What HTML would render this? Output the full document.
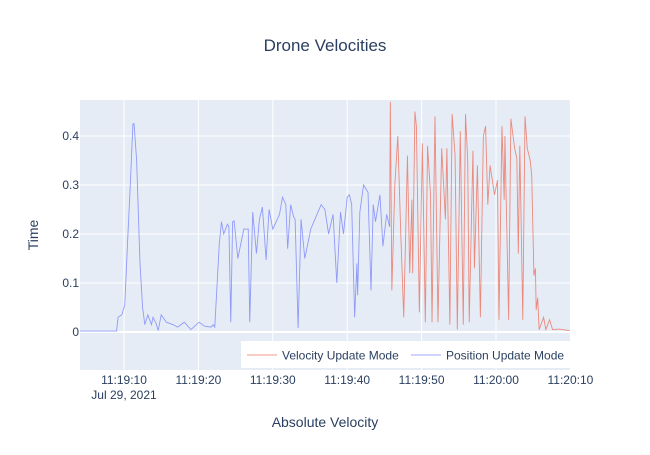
<!DOCTYPE html>
<html><head><meta charset="utf-8"><style>
body{margin:0;background:#fff;}
svg text{font-family:"Liberation Sans",sans-serif;fill:#2a3f5f;}
</style></head><body>
<svg id="chart" width="650" height="450" xmlns="http://www.w3.org/2000/svg">
<rect x="80" y="100" width="490" height="270" fill="#e5ecf6"/>
<g id="grid"></g>
<g id="series"></g>
<g id="ticks"></g>
<text x="325" y="51" font-size="17" text-anchor="middle">Drone Velocities</text>
<text x="325" y="427" font-size="14" text-anchor="middle">Absolute Velocity</text>
<text x="38" y="235" font-size="14" text-anchor="middle" transform="rotate(-90 38 235)">Time</text>
<g>
<rect x="241" y="341" width="329" height="27" fill="#fff"/>
<line x1="247" y1="355" x2="277" y2="355" stroke="#EF553B" stroke-width="1" opacity="0.6"/>
<text x="282" y="359.5" font-size="12">Velocity Update Mode</text>
<line x1="411" y1="355" x2="441" y2="355" stroke="#636efa" stroke-width="1" opacity="0.6"/>
<text x="446" y="359.5" font-size="12">Position Update Mode</text>
</g>
</svg>
<script>
// seconds after 11:19:00 and values
const posT=[4.1,9.0,9.2,9.7,10.1,10.5,10.8,11.2,11.35,11.7,12.15,12.5,12.8,13.2,13.7,13.9,14.3,14.6,15.0,15.7,16.6,17.2,18.1,19.0,20.1,20.8,21.7,22.0,22.2,22.8,23.1,23.4,23.9,24.1,24.35,24.6,24.8,25.3,26.1,26.7,26.9,27.3,27.8,28.2,28.6,29.1,29.5,30.0,30.9,31.3,31.75,32.0,32.4,32.8,33.0,33.4,33.8,34.3,35.1,36.5,37.0,37.5,38.1,38.6,39.1,39.5,40.0,40.3,40.6,41.0,41.3,41.4,41.7,42.2,42.8,43.2,43.5,43.8,44.4,44.8,45.3,45.7];
const posV=[0.002,0.002,0.03,0.035,0.055,0.19,0.285,0.425,0.425,0.35,0.14,0.05,0.015,0.035,0.015,0.03,0.018,0.003,0.035,0.02,0.015,0.01,0.02,0.005,0.02,0.012,0.01,0.015,0.01,0.178,0.225,0.2,0.22,0.215,0.02,0.225,0.227,0.15,0.21,0.21,0.02,0.245,0.16,0.23,0.255,0.147,0.25,0.21,0.24,0.275,0.26,0.17,0.26,0.235,0.23,0.008,0.23,0.15,0.21,0.26,0.25,0.2,0.24,0.1,0.245,0.2,0.275,0.28,0.26,0.03,0.14,0.075,0.245,0.3,0.285,0.085,0.26,0.225,0.28,0.175,0.24,0.215];
const velT=[45.7,45.8,46.0,46.4,46.8,47.2,47.6,48.1,48.4,48.7,48.8,49.1,49.3,49.7,50.1,50.5,50.8,51.2,51.4,51.8,52.2,52.7,53.2,53.4,53.8,54.1,54.5,54.8,55.2,55.6,55.9,56.2,56.4,56.9,57.1,57.5,57.9,58.3,58.6,58.9,59.2,59.8,60.2,60.4,60.8,61.1,61.2,61.7,62.0,62.5,62.8,63.0,63.2,63.6,63.9,64.2,64.6,64.8,65.1,65.3,65.4,65.6,65.8,66.4,66.7,67.2,67.6,68.5,69.9];
const velV=[0.215,0.47,0.085,0.3,0.4,0.2,0.03,0.36,0.12,0.27,0.12,0.45,0.42,0.04,0.385,0.02,0.38,0.28,0.02,0.44,0.02,0.375,0.23,0.375,0.015,0.445,0.36,0.005,0.41,0.015,0.445,0.35,0.02,0.37,0.13,0.34,0.03,0.4,0.42,0.26,0.34,0.28,0.31,0.025,0.42,0.27,0.4,0.025,0.435,0.375,0.355,0.16,0.38,0.025,0.44,0.375,0.35,0.32,0.115,0.13,0.045,0.07,0.005,0.03,0.005,0.025,0.005,0.006,0.003];
const yTicks=[0,0.1,0.2,0.3,0.4];
const xTicks=[10,20,30,40,50,60,70];
const xTickLabels=["11:19:10","11:19:20","11:19:30","11:19:40","11:19:50","11:20:00","11:20:10"];
const NS="http://www.w3.org/2000/svg";
function xs(t){return 124+(t-10)*7.44;}
function ys(v){return 332-v*490;}
const grid=document.getElementById('grid'),ticks=document.getElementById('ticks'),ser=document.getElementById('series');
xTicks.forEach((t,i)=>{
 const l=document.createElementNS(NS,'line');
 
 
 l.setAttribute('x1',xs(t));l.setAttribute('x2',xs(t));l.setAttribute('y1',100);l.setAttribute('y2',370);
 l.setAttribute('stroke','#fff');l.setAttribute('stroke-width',1);grid.appendChild(l);
 const tx=document.createElementNS(NS,'text');
 
 
 tx.setAttribute('x',xs(t));tx.setAttribute('y',384);tx.setAttribute('font-size',12);tx.setAttribute('text-anchor','middle');
 tx.textContent=xTickLabels[i];ticks.appendChild(tx);
});
const d=document.createElementNS(NS,'text');


d.setAttribute('x',xs(10));d.setAttribute('y',399);d.setAttribute('font-size',12);d.setAttribute('text-anchor','middle');
d.textContent='Jul 29, 2021';ticks.appendChild(d);
yTicks.forEach(v=>{
 const l=document.createElementNS(NS,'line');
 
 
 l.setAttribute('x1',80);l.setAttribute('x2',570);l.setAttribute('y1',ys(v));l.setAttribute('y2',ys(v));
 l.setAttribute('stroke','#fff');l.setAttribute('stroke-width',v===0?2:1);grid.appendChild(l);
 const tx=document.createElementNS(NS,'text');
 
 
 tx.setAttribute('x',79);tx.setAttribute('y',ys(v)+4);tx.setAttribute('font-size',12);tx.setAttribute('text-anchor','end');
 tx.textContent=String(v);ticks.appendChild(tx);
});
function line(T,V,color,name){
 const p=document.createElementNS(NS,'polyline');
 
 
 p.setAttribute('points',T.map((t,i)=>xs(t)+','+Math.max(100,ys(V[i]))).join(' '));
 p.setAttribute('fill','none');p.setAttribute('stroke',color);p.setAttribute('stroke-width',0.9);p.setAttribute('opacity',0.65);
 ser.appendChild(p);
}
line(posT,posV,'#636efa','position-update-line');
line(velT,velV,'#EF553B','velocity-update-line');
</script>
</body></html>
